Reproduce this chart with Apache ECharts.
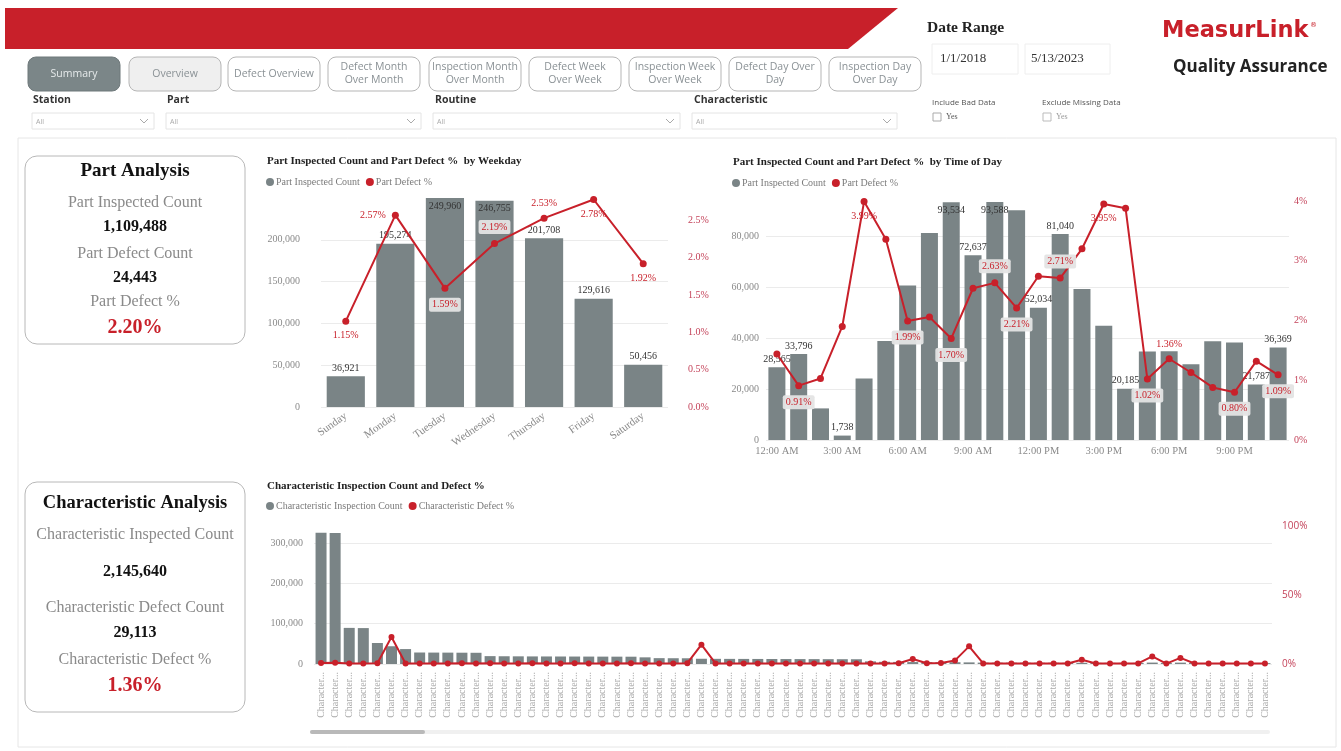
<!DOCTYPE html>
<html><head><meta charset="utf-8">
<script src="https://cdn.jsdelivr.net/npm/echarts@6/dist/echarts.min.js"></script>
<style>html,body{margin:0;padding:0;background:#fff}#c{width:1341px;height:751px}</style>
</head><body><div id="c"></div>
<script>
// ---------------- DATA ----------------
const weekdayCategories = ['Sunday','Monday','Tuesday','Wednesday','Thursday','Friday','Saturday'];
const weekdayCounts = [36921, 195274, 249960, 246755, 201708, 129616, 50456];
const weekdayDefectPct = [1.15, 2.57, 1.59, 2.19, 2.53, 2.78, 1.92];

const hourCategories = ['12:00 AM','1:00 AM','2:00 AM','3:00 AM','4:00 AM','5:00 AM','6:00 AM','7:00 AM','8:00 AM','9:00 AM','10:00 AM','11:00 AM',
  '12:00 PM','1:00 PM','2:00 PM','3:00 PM','4:00 PM','5:00 PM','6:00 PM','7:00 PM','8:00 PM','9:00 PM','10:00 PM','11:00 PM'];
const hourCounts = [28565, 33796, 12430, 1738, 24200, 38900, 60800, 81400, 93534, 72637, 93588, 90400,
  52034, 81040, 59400, 44900, 20185, 34800, 34900, 29800, 38800, 38300, 21787, 36369];
const hourDefectPct = [1.44, 0.91, 1.03, 1.90, 3.99, 3.36, 1.99, 2.06, 1.70, 2.54, 2.63, 2.21,
  2.74, 2.71, 3.20, 3.95, 3.88, 1.02, 1.36, 1.13, 0.88, 0.80, 1.32, 1.09];

const charCounts = [325000, 324500, 89500, 89000, 52000, 44000, 37000, 28500, 28300, 28200, 28000, 27800,
  19500, 19200, 19000, 18800, 18700, 18600, 18500, 18400, 18300, 18200, 18100, 16500,
  14500, 14300, 14200, 13000, 12800, 12700, 12600, 12500, 12400, 12300, 12200, 12100,
  12000, 11900, 11800, 6500, 5500, 5200, 4800, 4600, 4500, 4400, 4000, 3400,
  3300, 3300, 3200, 3100, 3100, 3000, 3000, 2900, 2900, 2800, 2800, 3500,
  2600, 3400, 2500, 2400, 2400, 2300, 2300, 2200];
const charDefectPct = [0.8, 0.9, 0.4, 0.4, 0.5, 19.6, 0.3, 0.4, 0.4, 0.4, 0.5, 0.4,
  0.5, 0.4, 0.4, 0.5, 0.4, 0.4, 0.5, 0.4, 0.4, 0.4, 0.5, 0.4,
  0.4, 0.4, 0.6, 14.0, 0.4, 0.4, 0.4, 0.4, 0.4, 0.4, 0.4, 0.4,
  0.4, 0.4, 0.4, 0.4, 0.4, 0.5, 3.6, 0.5, 0.8, 2.6, 12.8, 0.4,
  0.4, 0.4, 0.4, 0.4, 0.4, 0.4, 3.1, 0.4, 0.4, 0.4, 0.4, 5.5,
  0.3, 4.4, 0.4, 0.4, 0.4, 0.4, 0.4, 0.4];
const charCategories = charCounts.map((_, i) => 'Characteristic ' + (i + 1));

const navButtons = ['Summary','Overview','Defect Overview','Defect Month\nOver Month','Inspection Month\nOver Month',
  'Defect Week\nOver Week','Inspection Week\nOver Week','Defect Day Over\nDay','Inspection Day\nOver Day'];
const filterLabels = ['Station','Part','Routine','Characteristic'];
const partKpiLabels = ['Part Inspected Count','Part Defect Count','Part Defect %'];
const partKpiValues = ['1,109,488','24,443','2.20%'];
const charKpiLabels = ['Characteristic Inspected Count','Characteristic Defect Count','Characteristic Defect %'];
const charKpiValues = ['2,145,640','29,113','1.36%'];
const dateRange = ['1/1/2018','5/13/2023'];

// ---------------- STYLE ----------------
const SERIF = 'Liberation Serif';
const SANS = 'Open Sans';
const BAR = '#7a8486';
const RED = '#c8202a';
const RED_AX = '#c4435a';

function T(text, x, y, o) {
  o = o || {};
  const st = {
    text: text, fill: o.fill || '#222', fontSize: o.size || 12, fontFamily: o.family || SERIF,
    fontWeight: o.weight || 'normal', align: o.align || 'left', textAlign: o.align || 'left',
    verticalAlign: 'middle', textVerticalAlign: 'middle', lineHeight: o.lh || undefined
  };
  return { type: 'text', x: x, y: y, z: 20, style: st };
}
function R(x, y, w, h, o) {
  o = o || {};
  return { type: 'rect', z: o.z || 1, shape: { x: x, y: y, width: w, height: h, r: o.r || 0 },
    style: { fill: o.fill || 'none', stroke: o.stroke || null, lineWidth: o.lw || 1 } };
}

const g = [];
// outer panel (outline only so axes stay visible)
g.push(R(18, 138, 1318, 609, { stroke: '#e6e6e6', fill: 'none', z: 0 }));
// red banner
g.push({ type: 'polygon', z: 1, shape: { points: [[5, 8], [898, 8], [848, 49], [5, 49]] }, style: { fill: RED } });
// nav buttons
const btnX = [28, 129, 228, 328, 429, 529, 629, 729, 829];
navButtons.forEach((b, i) => {
  const fill = i === 0 ? '#7b8688' : (i === 1 ? '#efefef' : '#fff');
  g.push(R(btnX[i], 57, 92, 34, { r: 8, fill: fill, stroke: i === 0 ? '#6f797b' : '#b5b5b5' }));
  g.push(T(b, btnX[i] + 46, 74, { align: 'center', size: 10.5, family: SANS, fill: i === 0 ? '#e6eaeb' : '#8a9195', lh: 13 }));
});
// filters
const fX = [33, 167, 435, 694];
const fBox = [[32, 154], [166, 421], [433, 680], [692, 897]];
filterLabels.forEach((f, i) => {
  g.push(T(f, fX[i], 100, { size: 10.5, weight: 'bold', family: SANS, fill: '#333' }));
  g.push(R(fBox[i][0], 113, fBox[i][1] - fBox[i][0], 16, { stroke: '#e4e4e4', fill: '#fff' }));
  g.push(T('All', fBox[i][0] + 4, 122, { size: 7, family: SANS, fill: '#aaa' }));
  const cx = fBox[i][1] - 10;
  g.push({ type: 'polyline', z: 20, shape: { points: [[cx - 4, 119], [cx, 123], [cx + 4, 119]] }, style: { stroke: '#aaa', lineWidth: 1, fill: null } });
});
// date range
g.push(T('Date Range', 927, 28, { size: 15.5, weight: 'bold', fill: '#222' }));
g.push(R(932, 44, 86, 30, { stroke: '#eeeeee', fill: '#fff' }));
g.push(R(1025, 44, 85, 30, { stroke: '#eeeeee', fill: '#fff' }));
g.push(T(dateRange[0], 940, 59, { size: 13, fill: '#333' }));
g.push(T(dateRange[1], 1031, 59, { size: 13, fill: '#333' }));
// checkboxes
g.push(T('Include Bad Data', 932, 103, { size: 8, family: SANS, fill: '#555' }));
g.push(R(933, 113, 8, 8, { stroke: '#aaa', fill: '#fff' }));
g.push(T('Yes', 946, 117, { size: 8, fill: '#555' }));
g.push(T('Exclude Missing Data', 1042, 103, { size: 8, family: SANS, fill: '#555' }));
g.push(R(1043, 113, 8, 8, { stroke: '#bbb', fill: '#fff' }));
g.push(T('Yes', 1056, 117, { size: 8, fill: '#999' }));
// logo
g.push(T('MeasurLink', 1162, 31, { size: 22.5, weight: 'bold', family: 'DejaVu Sans', fill: RED }));
g.push(T('®', 1310, 25, { size: 7, family: 'DejaVu Sans', fill: RED }));
g.push(T('Quality Assurance', 1173, 67, { size: 17, weight: 'bold', family: SANS, fill: '#222' }));
// KPI cards
g.push(R(25, 156, 220, 188, { r: 12, stroke: '#b8b8b8', fill: '#fff' }));
g.push(T('Part Analysis', 135, 171, { align: 'center', size: 19, weight: 'bold', fill: '#111' }));
const pY = [203, 254, 302], pV = [227, 278, 328];
partKpiLabels.forEach((l, i) => {
  g.push(T(l, 135, pY[i], { align: 'center', size: 16, fill: '#8a8a8a' }));
  g.push(T(partKpiValues[i], 135, pV[i], { align: 'center', size: i === 2 ? 20 : 16, weight: 'bold', fill: i === 2 ? RED : '#111' }));
});
g.push(R(25, 482, 220, 230, { r: 12, stroke: '#b8b8b8', fill: '#fff' }));
g.push(T('Characteristic Analysis', 135, 503, { align: 'center', size: 18.5, weight: 'bold', fill: '#111' }));
const cY = [535, 608, 660], cV = [572, 633, 686];
charKpiLabels.forEach((l, i) => {
  g.push(T(l, 135, cY[i], { align: 'center', size: 16, fill: '#8a8a8a' }));
  g.push(T(charKpiValues[i], 135, cV[i], { align: 'center', size: i === 2 ? 20 : 16, weight: 'bold', fill: i === 2 ? RED : '#111' }));
});
// scrollbar of characteristic chart
g.push(R(310, 730, 960, 4, { fill: '#f0f0f0', r: 2 }));
g.push(R(310, 730, 115, 4, { fill: '#b9b9b9', r: 2 }));

// ---------------- label placement config ----------------
const wkBarPos = ['top', 'top', 'insideTop', 'insideTop', 'top', 'top', 'top'];
const wkLinePos = ['bottom', 'left', 'bottom', 'top', 'top', 'bottom', 'bottom'];
const wkLineBox = [false, false, true, true, false, false, false];
const hrBarPos = { 0: 'top', 1: 'top', 3: 'top', 8: 'insideTop', 9: 'top', 10: 'insideTop', 12: 'top', 13: 'top', 16: 'top', 22: 'top', 23: 'top' };
const hrLinePos = { 1: ['bottom', true], 4: ['bottom', false], 6: ['bottom', true], 8: ['bottom', true], 10: ['top', true], 11: ['bottom', true],
  13: ['top', true], 15: ['bottom', false], 17: ['bottom', true], 18: ['top', false], 21: ['bottom', true], 23: ['bottom', true] };

const fmtN = v => Number(v).toLocaleString('en-US');
const barLbl = pos => ({ show: true, position: pos, distance: 3, color: '#333', fontSize: 10, fontFamily: SERIF, formatter: p => fmtN(p.value) });
const lineLbl = (pos, box) => ({ show: true, position: pos, distance: 6, color: RED, fontSize: 10, fontFamily: SERIF,
  formatter: p => Number(p.value).toFixed(2) + '%', backgroundColor: box ? 'rgba(228,228,228,0.95)' : 'transparent', padding: box ? [2, 3] : 0, borderRadius: 2 });

const wkBarData = weekdayCounts.map((v, i) => ({ value: v, label: barLbl(wkBarPos[i]) }));
const wkLineData = weekdayDefectPct.map((v, i) => ({ value: v, label: lineLbl(wkLinePos[i], wkLineBox[i]) }));
const hrBarData = hourCounts.map((v, i) => hrBarPos[i] ? { value: v, label: barLbl(hrBarPos[i]) } : { value: v });
const hrLineData = hourDefectPct.map((v, i) => hrLinePos[i] ? { value: v, label: lineLbl(hrLinePos[i][0], hrLinePos[i][1]) } : { value: v });

const axLblGray = { color: '#8a8a8a', fontSize: 10, fontFamily: SERIF };
const split = { show: true, showMaxLine: false, lineStyle: { color: '#ebebeb' } };

const legendCommon = { icon: 'circle', itemWidth: 8, itemHeight: 8, itemGap: 6, textStyle: { color: '#7a7a7a', fontSize: 10, fontFamily: SERIF, padding: [0, 0, 0, -3] } };
const titleStyle = { fontFamily: SERIF, fontWeight: 'bold', fontSize: 11, color: '#222' };

const option = {
  animation: false,
  backgroundColor: '#fff',
  title: [
    { text: 'Part Inspected Count and Part Defect %  by Weekday', left: 262, top: 151, textStyle: titleStyle },
    { text: 'Part Inspected Count and Part Defect %  by Time of Day', left: 728, top: 152, textStyle: titleStyle },
    { text: 'Characteristic Inspection Count and Defect %', left: 262, top: 476, textStyle: titleStyle }
  ],
  legend: [
    Object.assign({ left: 261, top: 172, data: ['Part Inspected Count', 'Part Defect %'] }, legendCommon),
    Object.assign({ left: 727, top: 173, data: ['Part Inspected Count', 'Part Defect %'] }, legendCommon),
    Object.assign({ left: 261, top: 496, data: ['Characteristic Inspection Count', 'Characteristic Defect %'] }, legendCommon)
  ],
  grid: [
    { left: 321, top: 198, width: 347, height: 209 },
    { left: 766, top: 201, width: 523, height: 239 },
    { left: 314, top: 526, width: 958, height: 138 }
  ],
  xAxis: [
    { type: 'category', gridIndex: 0, data: weekdayCategories, axisLine: { show: false }, axisTick: { show: false },
      axisLabel: Object.assign({}, axLblGray, { rotate: 35, margin: 8, interval: 0, fontSize: 11 }) },
    { type: 'category', gridIndex: 1, data: hourCategories, axisLine: { show: false }, axisTick: { show: false },
      axisLabel: Object.assign({}, axLblGray, { interval: 2, margin: 6, fontSize: 10.5 }) },
    { type: 'category', gridIndex: 2, data: charCategories, axisLine: { show: false }, axisTick: { show: false },
      axisLabel: Object.assign({}, axLblGray, { rotate: 90, interval: 0, margin: 8, color: '#a9a9a9', formatter: v => v.slice(0, 9) + '...' }) }
  ],
  yAxis: [
    { type: 'value', gridIndex: 0, min: 0, max: 250000, interval: 50000, splitLine: split,
      axisLabel: Object.assign({ showMaxLabel: false, margin: 21, formatter: fmtN }, axLblGray) },
    { type: 'value', gridIndex: 0, position: 'right', min: 0, max: 2.8, interval: 0.5, splitLine: { show: false },
      axisLabel: { showMaxLabel: false, margin: 20, color: RED_AX, fontSize: 10, fontFamily: SERIF, formatter: v => v.toFixed(1) + '%' } },
    { type: 'value', gridIndex: 1, min: 0, max: 94000, interval: 20000, splitLine: split,
      axisLabel: Object.assign({ showMaxLabel: false, margin: 7, formatter: fmtN }, axLblGray) },
    { type: 'value', gridIndex: 1, position: 'right', min: 0, max: 4, interval: 1, splitLine: { show: false },
      axisLabel: { margin: 5, color: RED_AX, fontSize: 10, fontFamily: SERIF, formatter: v => v + '%' } },
    { type: 'value', gridIndex: 2, min: 0, max: 342000, interval: 100000, splitLine: split,
      axisLabel: Object.assign({ showMaxLabel: false, margin: 11, formatter: fmtN }, axLblGray) },
    { type: 'value', gridIndex: 2, position: 'right', min: 0, max: 100, interval: 50, splitLine: { show: false },
      axisLabel: { margin: 10, color: RED_AX, fontSize: 10, fontFamily: SANS, formatter: v => v + '%' } }
  ],
  series: [
    { name: 'Part Inspected Count', type: 'bar', xAxisIndex: 0, yAxisIndex: 0, data: wkBarData, barWidth: '77%', itemStyle: { color: BAR } },
    { name: 'Part Defect %', type: 'line', xAxisIndex: 0, yAxisIndex: 1, data: wkLineData, z: 5, symbol: 'circle', symbolSize: 7,
      itemStyle: { color: RED }, lineStyle: { color: RED, width: 2 } },
    { name: 'Part Inspected Count', type: 'bar', xAxisIndex: 1, yAxisIndex: 2, data: hrBarData, barWidth: '78%', itemStyle: { color: BAR } },
    { name: 'Part Defect %', type: 'line', xAxisIndex: 1, yAxisIndex: 3, data: hrLineData, z: 5, symbol: 'circle', symbolSize: 7,
      itemStyle: { color: RED }, lineStyle: { color: RED, width: 2 } },
    { name: 'Characteristic Inspection Count', type: 'bar', xAxisIndex: 2, yAxisIndex: 4, data: charCounts, barWidth: '78%', itemStyle: { color: BAR } },
    { name: 'Characteristic Defect %', type: 'line', xAxisIndex: 2, yAxisIndex: 5, data: charDefectPct, z: 5, symbol: 'circle', symbolSize: 6,
      itemStyle: { color: RED }, lineStyle: { color: RED, width: 2 } }
  ],
  graphic: { elements: g }
};
const chart = echarts.init(document.getElementById('c'), null, { renderer: 'canvas' });
chart.setOption(option);
</script>
</body></html>
